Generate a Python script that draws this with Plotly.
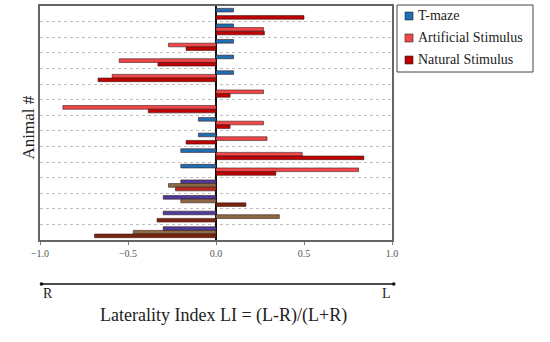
import plotly.graph_objects as go

animals = list(range(1, 16))
series_names = ["T-maze", "Artificial Stimulus", "Natural Stimulus"]
tmaze = [0.10, 0.10, 0.10, 0.10, 0.10, 0.0, 0.0, -0.10, -0.10, -0.20, -0.20, -0.20, -0.30, -0.30, -0.30]
artificial = [0.0, 0.27, -0.27, -0.55, -0.59, 0.27, -0.87, 0.27, 0.29, 0.49, 0.81, -0.27, -0.20, 0.36, -0.47]
natural = [0.50, 0.275, -0.17, -0.33, -0.67, 0.08, -0.385, 0.08, -0.17, 0.84, 0.34, -0.23, 0.17, -0.335, -0.69]
xticks = [-1.0, -0.5, 0.0, 0.5, 1.0]

# styles
legend_colors = ["#1F6FB5", "#F4474A", "#C00000"]
tmaze_colors = ["#1F6FB5"] * 11 + ["#4B3C9E"] * 4
art_colors = ["#F4474A"] * 11 + ["#8C6A44"] * 4
nat_colors = ["#C00000"] * 11 + ["#B82A22", "#7A2410", "#7A2410", "#7A2410"]
SERIF = "Liberation Serif, Times New Roman, serif"

fig = go.Figure()
for name, vals, cols in zip(series_names, [tmaze, artificial, natural],
                            [tmaze_colors, art_colors, nat_colors]):
    fig.add_trace(go.Bar(
        y=animals, x=vals, name=name, orientation="h", showlegend=False,
        marker=dict(color=cols, line=dict(color="#3a1a1a", width=0.6)),
    ))

fig.update_layout(
    width=550, height=342,
    margin=dict(l=40, r=158, t=6, b=102),
    paper_bgcolor="white", plot_bgcolor="white",
    barmode="group", bargap=0.3, bargroupgap=0,
    font=dict(family=SERIF, color="#222"),
    showlegend=False,
    xaxis=dict(range=[-1, 1], tickvals=xticks, tickformat=".1f",
               tickfont=dict(family=SERIF, size=10, color="#555"),
               ticks="outside", ticklen=3, tickcolor="#777", automargin=False,
               showgrid=False, zeroline=True, zerolinecolor="#111", zerolinewidth=1.5,
               showline=True, linecolor="#666", linewidth=1.5, mirror=True),
    yaxis=dict(range=[15.5, 0.5], tickvals=[a + 0.5 for a in animals[:-1]],
               showticklabels=False, ticks="", automargin=False,
               showgrid=True, gridcolor="#bdbdbd", griddash="dot", gridwidth=0.8,
               zeroline=False,
               showline=True, linecolor="#666", linewidth=1.5, mirror=True),
)

# custom legend box (paper coordinates; plot area is 352 x 234 px)
def px_x(px):
    return (px - 40) / 352.0

def px_y(py):
    return (240 - py) / 234.0

fig.add_shape(type="rect", xref="paper", yref="paper",
              x0=px_x(397), x1=px_x(533), y0=px_y(72), y1=px_y(5),
              line=dict(color="#444", width=1), fillcolor="white")
for i, (name, c) in enumerate(zip(series_names, legend_colors)):
    cy = 16 + 22 * i
    fig.add_shape(type="rect", xref="paper", yref="paper",
                  x0=px_x(405), x1=px_x(413), y0=px_y(cy + 4), y1=px_y(cy - 4),
                  line=dict(color="#222", width=0.6), fillcolor=c)
    fig.add_annotation(x=px_x(416), y=px_y(cy), xref="paper", yref="paper",
                       xanchor="left", yanchor="middle", text=name, showarrow=False,
                       font=dict(family=SERIF, size=14, color="#222"))

fig.add_annotation(x=1.01, y=px_y(284), ax=-1, ay=0, xref="x", yref="paper",
                   axref="x", ayref="pixel", showarrow=True, text="",
                   arrowhead=6, arrowside="end+start", arrowsize=0.6,
                   arrowwidth=1.5, arrowcolor="#111")
fig.add_annotation(x=-0.955, y=px_y(303), xref="x", yref="paper", text="R",
                   showarrow=False, font=dict(family=SERIF, size=14, color="#222"))
fig.add_annotation(x=0.97, y=px_y(303), xref="x", yref="paper", text="L",
                   showarrow=False, font=dict(family=SERIF, size=14, color="#222"))
fig.add_annotation(x=0.045, y=px_y(328), xref="x", yref="paper",
                   text="Laterality Index LI = (L-R)/(L+R)",
                   showarrow=False, font=dict(family=SERIF, size=18, color="#222"))
fig.add_annotation(x=px_x(17), y=px_y(128), xref="paper", yref="paper", text="Animal #",
                   textangle=-90, showarrow=False,
                   font=dict(family=SERIF, size=17, color="#222"))

fig.write_html("out.html", config={"displayModeBar": False},
               post_script="document.body.style.margin='0';")
